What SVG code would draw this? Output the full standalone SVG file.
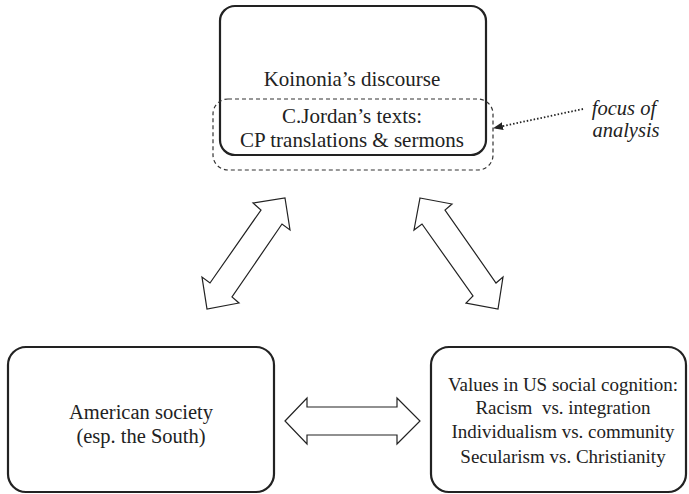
<svg xmlns="http://www.w3.org/2000/svg" width="689" height="494" viewBox="0 0 689 494">
<defs>
<style>
.box{fill:#fff;stroke:#222;stroke-width:2.2}
.dash{fill:none;stroke:#333;stroke-width:1.2;stroke-dasharray:4 3}
.arr{fill:#fff;stroke:#222;stroke-width:1.2;stroke-linejoin:miter}
text{font-family:"Liberation Serif","Times New Roman",serif;font-size:19px;fill:#222;text-anchor:middle;white-space:pre}
.big{font-size:21px}
.mid{font-size:20.5px}
.it{font-style:italic;font-size:20.5px}
</style>
<marker id="tri" markerWidth="10" markerHeight="8" refX="9" refY="4" orient="auto" markerUnits="userSpaceOnUse">
<path d="M0,0 L10,4 L0,8 Z" fill="#222"/>
</marker>
</defs>
<rect width="689" height="494" fill="#fff"/>
<g id="koinonia">
<rect class="box" x="220" y="6" width="266" height="149" rx="15"/>
<text class="big" x="352" y="86">Koinonia’s discourse</text>
</g>
<g id="jordan">
<rect class="dash" x="213" y="99" width="280" height="71" rx="15"/>
<text class="big" x="352" y="123">C.Jordan’s texts:</text>
<text class="big" x="352" y="147">CP translations &amp; sermons</text>
</g>
<g id="society">
<rect class="box" x="8" y="347" width="266" height="145" rx="18"/>
<text class="mid" x="141" y="419">American society</text>
<text class="mid" x="141" y="443">(esp. the South)</text>
</g>
<g id="values">
<rect class="box" x="431" y="347" width="255" height="145" rx="18"/>
<text x="563" y="391">Values in US social cognition:</text>
<text x="563" y="414" xml:space="preserve">Racism  vs. integration</text>
<text x="563" y="438">Individualism vs. community</text>
<text x="563" y="463">Secularism vs. Christianity</text>
</g>
<g id="focus">
<text class="it" x="624" y="115">focus of</text>
<text class="it" x="626" y="137">analysis</text>
</g>
<g id="connectors">
<polygon class="arr" points="285,198 290,230 282,224 232,297 239,303 207,309 202,277 210,283 261,210 253,203"/>
<polygon class="arr" points="420,198 452,204 445,210 496,283 503,277 498,309 466,303 473,296 422,224 414,230"/>
<polygon class="arr" points="285,421 307,398 307,407 397,407 397,398 420,421 397,444 397,435 307,435 307,444"/>
<line x1="583" y1="109" x2="494" y2="128" stroke="#222" stroke-width="1.8" stroke-dasharray="1.5 2" marker-end="url(#tri)"/>
</g>
</svg>
